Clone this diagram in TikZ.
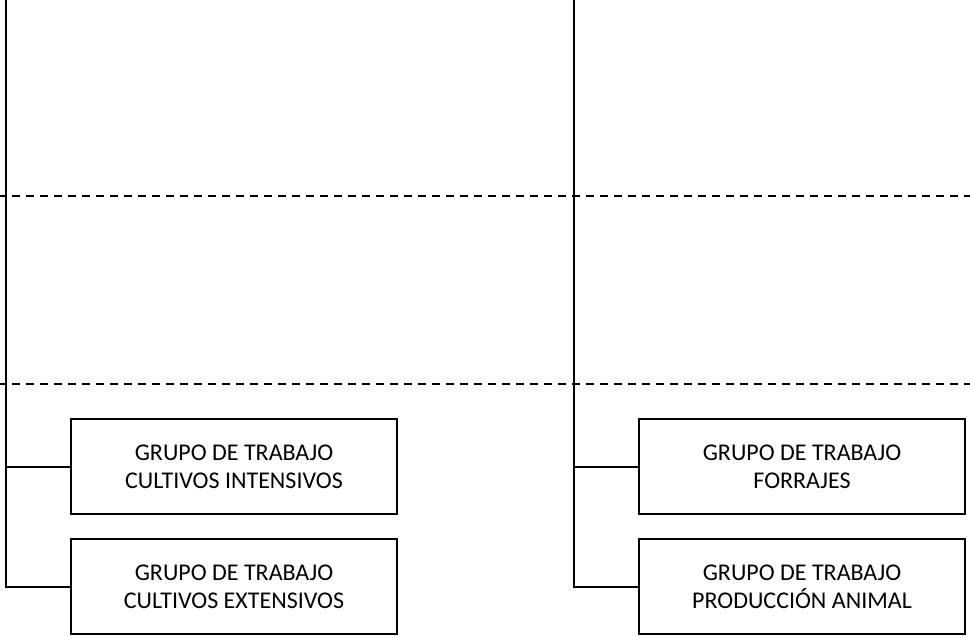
\documentclass[tikz,border=0pt]{standalone}
\usepackage{fontspec}
\setmainfont{Carlito}
\usepackage{tikz}
\usetikzlibrary{positioning}

\begin{document}
\begin{tikzpicture}[
    x=1pt, y=-1pt,
    node distance=23pt,
    every node/.style={font=\fontsize{24}{28}\selectfont},
    grupo/.style={draw=black, line width=2pt, align=center, inner sep=0pt,
                  minimum width=326pt, minimum height=95pt},
    tronco/.style={draw=black, line width=2pt},
    franja/.style={draw=black, line width=1.8pt, dash pattern=on 8pt off 6pt,
                   dash phase=2pt},
]
\useasboundingbox (0,0) rectangle (970,637);

% Dashed dividers across the whole width
\draw[franja] (0,196) -- (970,196);
\draw[franja] (0,384) -- (970,384);

% Working group boxes (left column)
\node[grupo] (intens) at (234,466.5) {GRUPO DE TRABAJO\\CULTIVOS INTENSIVOS};
\node[grupo] (extens) [below=of intens] {GRUPO DE TRABAJO\\CULTIVOS EXTENSIVOS};

% Working group boxes (right column)
\node[grupo] (forraj) at (802,466.5) {GRUPO DE TRABAJO\\FORRAJES};
\node[grupo] (animal) [below=of forraj] {GRUPO DE TRABAJO\\PRODUCCIÓN ANIMAL};

% Trunks coming from above
\coordinate (troncoL) at (6,0);
\coordinate (troncoR) at (574,0);

\draw[tronco] (troncoL) |- (extens.west);
\draw[tronco] (troncoL |- intens.west) -- (intens.west);
\draw[tronco] (troncoR) |- (animal.west);
\draw[tronco] (troncoR |- forraj.west) -- (forraj.west);
\end{tikzpicture}
\end{document}
